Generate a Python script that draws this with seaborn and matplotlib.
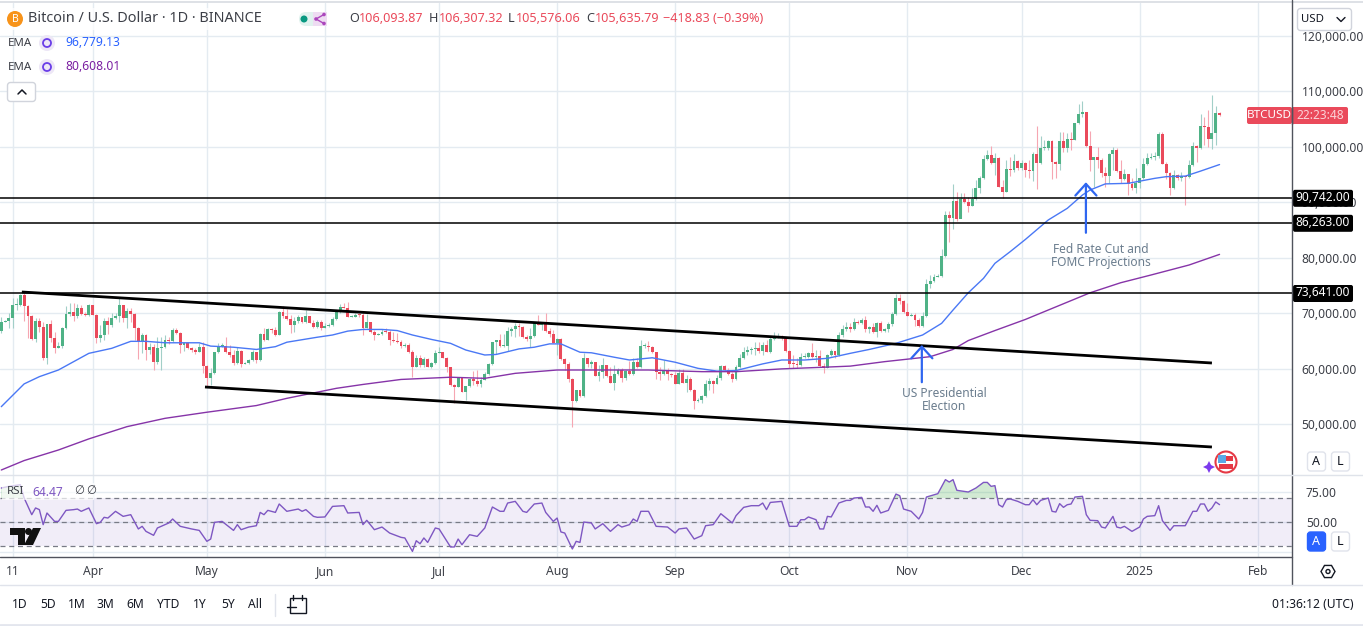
import numpy as np
import pandas as pd
import matplotlib
matplotlib.use("Agg")
import matplotlib.pyplot as plt
import matplotlib.dates as mdates
from matplotlib.patches import Circle, FancyBboxPatch, Polygon, Rectangle
from matplotlib.ticker import FuncFormatter
import seaborn as sns

# ---------- data (prices in thousand USD, daily candles from 2024-03-08) ----------
first_open = 66.88
close_1 = [68.5,68.62,69.22,71.5,71.5,73.3,71.38,69.52,65.44,68.62,67.6,61.96,68.08,65.62,63.76,64.12,67.42,69.88,70.24,69.52,70.96,69.88,69.7,71.5,69.76,65.56,66.1,68.62,67.9,69.16,69.52,71.5,69.22,70.42,69.82,67.42,64.9,66.1,63.4,63.94,61.24,63.76,63.94,65.2,65.02,67.0,66.52,64.3,64.66,63.76,63.46,62.98,63.94,60.52]
high_1 = [69.4,68.8,70.0,72.7,72.7,73.42,73.78,71.5,69.7,69.1,69.22,68.5,68.08,68.8,66.58,64.9,67.6,71.38,71.8,71.8,71.62,71.5,70.18,71.62,71.5,69.88,67.9,69.1,69.4,70.0,70.0,72.7,71.5,71.02,71.02,70.06,67.54,66.4,66.22,64.6,64.42,65.68,65.8,66.1,65.8,67.42,67.42,66.7,64.78,64.9,64.0,63.7,64.6,64.78]
low_1 = [66.4,68.38,67.3,67.3,70.6,71.38,68.68,65.62,65.2,64.9,66.7,61.6,60.94,64.9,62.8,63.7,63.82,67.18,69.58,68.62,69.1,69.7,69.58,69.58,69.76,64.6,64.78,65.2,66.22,67.6,68.98,68.38,68.5,67.42,68.5,65.2,61.78,62.8,61.6,62.68,59.8,60.94,59.8,63.7,64.42,64.9,66.22,62.8,63.22,63.58,63.1,62.62,62.98,59.2]

close_2 = [58.42,59.26,63.04,64.12,64.18,63.04,62.44,61.0,63.22,60.88,61.0,61.6,63.04,61.6,66.28,65.2,67.18,67.0,66.1,70.3,69.52,68.98,67.9,68.62,69.28,68.5,69.52,68.32,67.54,68.44,67.42,67.78,67.96,68.92,70.42,71.14,71.02,69.4,69.4,69.76,69.7,67.36,68.44,66.7,66.1,66.22,66.7,66.58,65.2,65.02,64.9,64.12,64.24,63.1]
high_2 = [60.7,60.1,63.1,64.72,64.72,65.8,64.3,63.4,64.0,63.4,61.24,61.72,63.4,63.1,66.52,67.3,67.3,67.3,67.6,70.42,71.32,70.72,69.7,69.4,69.7,69.4,70.6,69.52,68.8,68.8,68.8,68.2,68.2,69.4,70.6,71.68,71.92,72.1,69.7,70.0,70.12,70.0,69.88,68.44,67.0,66.52,67.12,67.3,67.0,66.7,66.4,65.2,64.72,64.6]
low_2 = [56.8,57.1,59.08,62.8,64.0,62.92,62.2,60.7,60.88,60.4,60.82,60.88,61.36,61.0,61.48,65.08,65.2,66.4,65.92,66.1,69.1,68.8,66.52,66.7,68.32,68.2,68.32,68.2,67.3,67.3,67.0,67.3,67.6,67.72,68.8,70.12,70.9,69.28,69.28,69.28,69.4,66.1,67.3,66.4,65.2,66.04,66.04,66.52,64.3,64.9,64.6,63.7,64.0,62.92]

close_3 = [60.34,61.9,60.7,61.78,60.28,61.12,62.92,63.04,62.02,60.28,57.1,56.74,58.42,55.9,56.92,58.18,57.88,57.28,58.0,59.08,60.88,64.9,65.2,64.12,64.12,66.82,67.18,67.78,67.6,65.8,65.32,65.92,68.2,67.96,68.38,66.82,66.28,64.72,65.38,61.78,60.88,58.18,54.28,56.2,55.12,61.96,60.82,61.3,58.78,59.5,60.7,58.72,57.52,59.02]
high_3 = [63.4,62.5,62.5,62.2,61.9,61.3,63.4,63.88,63.04,62.14,60.4,57.28,58.6,58.42,56.92,58.3,59.68,59.8,58.6,59.5,61.0,64.9,65.2,66.28,66.28,67.6,67.6,68.32,68.2,67.78,66.1,67.3,68.32,69.7,68.38,70.0,67.3,67.0,65.5,65.5,61.9,61.3,58.36,56.2,56.2,62.92,61.9,61.6,61.3,60.7,61.9,60.7,60.4,60.7]
low_3 = [58.6,60.28,60.4,60.28,60.28,60.1,60.94,62.8,62.02,59.5,56.92,53.92,56.74,55.9,54.4,56.68,57.1,56.92,56.8,58.0,58.9,60.7,62.68,64.0,64.0,63.28,65.92,65.8,65.92,65.5,65.08,63.88,65.68,67.9,67.0,66.7,65.8,64.6,62.5,61.6,59.8,57.7,49.6,54.1,54.88,55.0,60.4,60.1,58.72,57.88,58.3,58.6,57.4,56.2]

close_4 = [59.8,58.3,59.62,59.02,61.3,60.34,64.12,64.12,64.0,62.98,59.5,59.02,59.68,59.08,58.9,57.28,59.2,57.46,58.18,56.2,54.22,54.4,55.12,57.28,57.82,57.28,58.36,60.58,59.8,59.08,58.18,60.34,61.96,63.04,63.4,63.58,63.7,63.22,64.3,63.1,65.44,65.8,65.92,65.62,63.22,60.94,60.82,60.76,62.14,62.2,62.86,62.14,62.26,60.58]
high_4 = [60.1,60.1,59.8,61.42,61.9,61.9,65.2,64.6,65.02,64.18,63.1,60.4,61.6,60.1,59.2,59.5,59.98,59.98,58.9,58.6,56.38,54.82,55.3,58.0,58.3,58.0,58.9,60.7,60.7,60.22,59.5,60.7,62.62,64.0,64.18,64.0,64.9,64.78,64.78,65.2,65.8,66.58,66.4,66.1,65.5,63.34,62.5,61.9,62.8,62.8,62.98,64.6,63.4,63.4]
low_4 = [58.9,57.7,58.0,58.9,58.9,60.22,60.22,63.7,63.22,62.8,58.18,58.0,58.9,58.0,58.6,57.22,57.22,57.4,55.9,56.02,52.78,53.98,53.8,54.94,56.2,55.6,57.22,58.0,59.62,58.9,57.58,58.0,60.22,61.72,62.5,62.62,62.5,62.8,62.5,62.98,62.8,65.2,65.5,65.2,62.98,60.1,60.1,60.1,60.58,61.9,61.9,61.9,61.3,60.4]

close_5 = [60.16,62.5,63.22,62.5,66.1]
high_5 = [61.0,62.7,63.5,63.22,66.7]
low_5 = [59.2,60.1,62.4,62.0,62.4]

close_6 = [67.18,67.6,67.18,68.44,68.26,68.8,67.12,67.6,66.64,68.26,66.82,67.18,68.08,69.94,72.76,72.22,70.3,69.52,69.7,68.8,67.78,69.52,75.28,75.82,76.6,76.72,80.32,87.7,87.16,90.22,87.04,90.64,90.04,89.38,90.64,92.56,94.36,97.78,98.5,97.0,97.96,92.8,91.84,95.98,95.8,97.42,96.22,97.0]
high_6 = [67.9,68.38,68.2,69.1,68.8,69.22,69.52,67.72,68.2,68.38,68.68,67.3,68.38,70.18,73.48,73.48,72.4,71.8,70.0,70.0,69.1,70.3,76.18,76.9,77.08,77.08,81.52,88.42,88.48,93.28,91.78,91.6,91.6,91.0,92.62,94.0,94.72,98.5,99.4,100.12,98.8,98.2,94.0,97.6,98.2,98.68,97.6,97.6]
low_6 = [65.8,66.88,66.7,67.0,68.08,68.08,66.7,66.4,66.52,65.8,66.7,66.7,66.7,67.78,69.7,71.62,70.0,69.52,69.52,67.72,67.6,67.6,69.4,74.5,75.64,76.48,76.54,80.2,82.9,85.18,86.68,87.1,89.8,88.3,89.32,90.4,91.72,94.12,97.6,96.82,94.9,92.68,90.7,91.78,94.72,95.5,95.8,95.8]

close_7 = [95.8,95.62,98.68,97.06,99.76,99.76,101.02,97.24,96.88,101.02,99.76,101.38,101.2,104.26,105.88,106.24,100.12,97.6,98.14,97.6,95.26,94.72,98.68,99.4,95.62,94.18,95.08,93.28,92.56,93.4,94.36,96.88,97.96,98.2,98.38,102.28,96.88,95.26,92.56,94.9,94.36,94.72,94.48,96.7,100.12,99.76,103.72,103.6,101.38,102.46,106.09,105.64]
high_7 = [97.3,97.6,99.1,103.72,101.92,101.2,101.2,101.2,97.42,102.7,102.7,102.4,102.58,104.32,107.68,108.22,106.24,102.82,98.2,99.88,97.9,96.4,98.8,99.88,99.7,97.6,95.92,95.08,94.3,96.1,94.42,97.9,98.8,98.8,98.98,102.64,102.64,97.3,95.44,95.8,95.08,95.5,94.72,97.6,100.78,100.3,105.88,105.4,106.6,109.3,107.38,106.31]
low_7 = [94.6,94.3,93.88,92.38,96.88,99.4,99.4,94.12,94.3,95.8,99.1,99.1,99.4,101.2,104.02,105.4,100.0,95.62,92.8,96.1,94.48,92.8,93.4,95.8,95.5,93.4,94.0,91.3,92.2,91.72,92.5,94.12,96.7,97.72,97.6,97.96,96.88,94.12,91.3,92.44,94.0,93.88,89.5,94.3,96.52,97.3,99.52,100.3,100.0,99.52,100.3,105.58]

ema_blue_days = [0,6,10,15,23,29,34,38,43,52,55,61,67,72,75,83,87,91,95,100,104,108,113,118,122,127,130,136,140,144,147,152,155,161,165,171,177,183,188,193,200,205,211,217,223,228,235,242,247,250,254,258,261,265,269,275,280,284,286,290,296,303,306,311,315,320]
ema_blue = [53.2,57.3,58.6,59.8,62.8,63.7,64.96,64.96,64.7,64.7,64.1,63.9,63.5,64.0,64.8,65.7,66.1,66.8,67.1,67.1,66.9,66.1,65.3,64.6,63.4,62.5,62.6,63.6,63.9,64.5,64.5,63.0,62.9,62.1,61.6,62.0,61.2,60.1,59.6,59.7,60.9,61.6,61.6,61.9,62.8,63.5,64.6,66.1,68.2,70.6,73.7,76.3,79.0,81.1,83.3,86.8,88.9,91.3,92.2,93.3,93.4,94.3,94.6,94.7,95.6,96.78]
ema_purple_days = [0,6,15,23,33,43,54,67,75,88,95,105,118,127,135,146,159,170,184,193,205,216,223,232,244,250,254,261,269,286,294,302,312,320]
ema_purple = [41.8,43.5,45.4,47.4,49.6,51.1,52.2,53.4,54.7,56.5,57.2,58.1,58.5,58.3,59.2,59.8,59.8,59.8,59.5,59.5,60.0,60.3,60.5,61.3,62.2,63.5,65.1,66.9,68.9,73.7,75.5,76.9,78.7,80.61]

rsi_days = [0,2,5,6,8,9,10,11,12,14,15,17,19,20,21,23,25,26,27,28,30,32,34,36,37,38,40,41,44,45,47,50,52,54,55,56,58,61,62,63,65,67,68,69,70,72,73,75,78,79,80,82,83,85,87,90,91,94,95,96,98,100,102,105,106,108,109,110,111,112,114,115,118,119,120,121,123,125,127,129,131,132,133,135,137,138,140,142,143,145,146,147,148,150,151,152,153,155,156,158,160,162,163,165,166,167,168,170,172,175,177,178,180,182,184,185,187,189,192,193,195,197,199,200,201,202,205,207,209,210,211,212,214,215,216,217,218,220,222,223,224,226,227,228,229,230,231,233,235,236,237,239,241,242,243,246,248,249,250,251,254,256,258,259,260,261,262,263,264,265,267,269,270,271,272,273,275,276,277,278,279,280,281,282,284,285,286,288,289,290,292,293,294,295,297,299,300,301,303,304,305,307,308,311,313,314,315,316,317,318,319,320]
rsi_vals = [78.3,79.7,81.1,70,56.1,61.7,60.3,47.8,57.5,50.5,50.5,59.7,60.3,60.8,58.9,61.7,48.6,49.7,53.9,53.3,58.9,54.7,56.1,44.2,46.4,42.2,38.9,45,49.2,52.5,46.4,44.2,43,33.9,35.8,49.7,50.5,43,47.8,43.6,45.8,46.9,58,56.1,59.7,58,65,58.9,60.8,58.9,60.3,54.7,53.9,54.2,63,63.6,57.5,58,47.8,51.4,43.6,45.8,40.8,37.2,36.7,25.5,34.4,31.9,36.7,33,45,44.2,29.2,29.2,35.8,31.1,39.4,38,45,62.5,58.9,58.9,65.8,67.2,58.9,58,65,65.8,58,50.5,53.3,41.7,40.8,27.5,33.9,33,50,49.2,44.2,48.6,42.2,47.8,45.8,47.8,52.5,50.5,58.9,58.9,46.4,45.8,40.8,44.2,45,35.8,38.6,46.9,47.8,56.9,49.2,55.3,62.2,63.6,63.6,65.8,60.3,66.3,67.2,46.4,46.4,51.9,51.9,54.2,51.9,44.2,44.2,54.7,54.2,65.8,68,68,70,70.5,62.5,62.5,58.9,63.9,57.5,59.7,73.3,71.9,60.8,58.9,52.5,58,70.8,73.6,85.3,83.3,85.3,76.4,75,78.3,83,83,79.7,80.3,64.4,62.5,68.6,69.2,67.2,64.4,64.4,68.6,64.4,68,70,58.9,58.3,65.3,62.2,64.4,65,70.8,71.4,56.1,51.4,51.1,45.8,45,54.7,45.8,45,46.4,42.2,45.8,52.5,54.7,55.3,63.6,51.1,43,46.9,46.9,58.9,58.9,65,65,58.9,61.7,66.7,64.47]

h_levels = [90.742, 86.263, 73.641]
h_labels = ["90,742.00", "86,263.00", "73,641.00"]
channel_days = [5.4, 318.0]
channel_upper = [73.84, 61.06]
channel_lower_days = [53.5, 318.0]
channel_lower = [56.74, 45.94]
arrow_days = [241.8, 284.9]
arrow_from = [57.6, 84.5]
arrow_to = [64.3, 93.6]
month_ticks = ["2024-03-11","2024-04-01","2024-05-01","2024-06-01","2024-07-01","2024-08-01","2024-09-01","2024-10-01","2024-11-01","2024-12-01","2025-01-01","2025-02-01"]
month_labels = ["11","Apr","May","Jun","Jul","Aug","Sep","Oct","Nov","Dec","2025","Feb"]
range_labels = ["1D","5D","1M","3M","6M","YTD","1Y","5Y","All"]

closes = np.array(close_1+close_2+close_3+close_4+close_5+close_6+close_7)
highs = np.array(high_1+high_2+high_3+high_4+high_5+high_6+high_7)
lows = np.array(low_1+low_2+low_3+low_4+low_5+low_6+low_7)
opens = np.r_[first_open, closes[:-1]]
base = pd.Timestamp("2024-03-08")
dates = pd.date_range(base, periods=len(closes))
def day(d):
    return base + pd.to_timedelta(np.asarray(d, dtype=float), unit="D")

# ---------- style ----------
sns.set_theme(style="white")
FONT = ["Noto Sans", "DejaVu Sans"]
plt.rcParams["font.family"] = FONT
TXT = "#3c3f47"
GRID = "#e4ebf1"
UP, DOWN = "#4fb286", "#ea4a5b"
UPW, DOWNW = "#a2cfc8", "#f6a6b2"
BLUE, PURPLE = "#4a78f5", "#8634a8"
FS = 8.7

W, H = 1363, 626
fig = plt.figure(figsize=(W/100, H/100), dpi=100, facecolor="white")
def rect(l, t, r, b):
    return [l/W, 1-b/H, (r-l)/W, (b-t)/H]
ax = fig.add_axes(rect(0, 3, 1292, 475))
rs = fig.add_axes(rect(0, 475, 1292, 557))

x0 = mdates.date2num(base)
xlim = (x0-1.3/3.807, x0+(1292-1.3)/3.807)
tick_pos = mdates.date2num(pd.to_datetime(month_ticks))

# ---------- price pane ----------
ax.set_xlim(xlim)
ax.set_ylim(126.4-.18*475, 126.4-.18*3)
ax.set_axisbelow(True)
ax.set_xticks(tick_pos)
ax.set_xticklabels([])
ax.set_yticks(np.arange(50, 121, 10))
ax.yaxis.tick_right()
ax.yaxis.set_major_formatter(FuncFormatter(lambda v, _: f"{v*1000:,.2f}"))
ax.tick_params(axis="y", length=0, pad=7, labelsize=FS, labelcolor=TXT)
ax.tick_params(axis="x", length=0)
ax.grid(True, color=GRID, lw=1)
for s in ax.spines.values():
    s.set_visible(False)

xd = mdates.date2num(dates)
up = closes >= opens
ax.vlines(xd, lows, highs, colors=np.where(up, UPW, DOWNW), lw=0.8, zorder=2)
ax.bar(xd, np.maximum(np.abs(closes-opens), 0.18), bottom=np.minimum(opens, closes),
       width=0.76, color=np.where(up, UP, DOWN), lw=0, zorder=3)

sns.lineplot(x=mdates.date2num(day(ema_blue_days)), y=ema_blue, ax=ax, color=BLUE, lw=1.0, zorder=4, errorbar=None, estimator=None)
sns.lineplot(x=mdates.date2num(day(ema_purple_days)), y=ema_purple, ax=ax, color=PURPLE, lw=1.0, zorder=4, errorbar=None, estimator=None)
for lv in h_levels:
    ax.axhline(lv, color="black", lw=1.1, zorder=5)
ax.plot(mdates.date2num(day(channel_days)), channel_upper, color="black", lw=2.0, zorder=5, solid_capstyle="butt")
ax.plot(mdates.date2num(day(channel_lower_days)), channel_lower, color="black", lw=2.0, zorder=5, solid_capstyle="butt")
for d, a, b in zip(arrow_days, arrow_from, arrow_to):
    xa = mdates.date2num(day(d))
    ax.annotate("", xy=(xa, b), xytext=(xa, a), zorder=6,
                arrowprops=dict(arrowstyle="->,head_length=0.42,head_width=0.38", color="#2f66f0", lw=1.6,
                                mutation_scale=20, shrinkA=0, shrinkB=0))

# ---------- RSI pane ----------
rs.set_xlim(xlim)
rs.set_ylim(70-(557-498)/1.2, 70+(498-475)/1.2)
rs.set_axisbelow(True)
rs.set_xticks(tick_pos)
rs.set_xticklabels(month_labels)
rs.set_yticks([25, 50, 75])
rs.set_yticklabels(["", "50.00", "75.00"])
rs.yaxis.tick_right()
rs.tick_params(axis="y", length=0, pad=10, labelsize=FS, labelcolor=TXT)
rs.tick_params(axis="x", length=0, pad=6, labelsize=FS, labelcolor=TXT)
rs.get_xticklabels()[10].set_fontweight("bold")
rs.grid(True, color=GRID, lw=1)
for s in rs.spines.values():
    s.set_visible(False)
rs.axhspan(30, 70, color="#7e57c2", alpha=.1, lw=0, zorder=1)
for lv in [30, 50, 70]:
    rs.axhline(lv, color="#787b86", lw=.9, dashes=(4, 3), zorder=2)
rx = mdates.date2num(day(rsi_days))
rv = np.array(rsi_vals)
rs.fill_between(rx, 70, rv, where=rv > 70, interpolate=True, color="#4caf50", alpha=.25, lw=0, zorder=2)
sns.lineplot(x=rx, y=rv, ax=rs, color="#7e57c2", lw=1.0, zorder=3, errorbar=None, estimator=None)
rs.set_xlabel(""); rs.set_ylabel(""); ax.set_xlabel(""); ax.set_ylabel("")

# ---------- chrome overlay ----------
c = fig.add_axes([0, 0, 1, 1], zorder=10)
c.set_xlim(0, W); c.set_ylim(H, 0); c.axis("off"); c.patch.set_alpha(0)
def T(x, y, s, color=TXT, size=FS, ha="left", va="center", **k):
    return c.text(x, y, s, color=color, fontsize=size, ha=ha, va=va, **k)
c.plot([0, W], [2, 2], color="#d8dbe2", lw=1.2)
c.plot([0, W], [625, 625], color="#e3e6ee", lw=2)
c.plot([1292, 1292], [0, 585], color="#50535c", lw=1)
c.plot([0, 1292], [557, 557], color="#50535c", lw=1)
c.plot([0, 1292], [475, 475], color="#dfe3ea", lw=1)
c.plot([1292, W], [475, 475], color="#dfe3ea", lw=1)
c.plot([0, W], [585, 585], color="#e0e3eb", lw=1)

# header
c.add_patch(Rectangle((4, 8), 272, 22, color="white", alpha=.75, lw=0))
c.add_patch(Circle((15, 19), 8, color="#f7931a", lw=0))
T(15, 19, "B", color="white", size=7.5, ha="center", fontweight="bold")
T(28, 19, "Bitcoin / U.S. Dollar · 1D · BINANCE", size=10.4)
c.add_patch(FancyBboxPatch((299, 12), 28, 14, boxstyle="round,pad=0,rounding_size=7", fc="#e0f2ee", ec="none"))
c.add_patch(Rectangle((313, 12), 14, 14, fc="#eedcf2", ec="none"))
c.add_patch(Circle((304, 19), 3.5, color="#089981", lw=0))
for p in [(316, 19), (324, 14.5), (324, 23.5)]:
    c.add_patch(Circle(p, 1.8, color="#ab47bc", lw=0))
c.plot([324, 316, 324], [14.5, 19, 23.5], color="#ab47bc", lw=1)
RED = "#ea4a5b"
for xl, l, xv, v in [(349, "O", 359, "106,093.87"), (429, "H", 439, "106,307.32"), (508, "L", 516, "105,576.06"), (586, "C", 595, "105,635.79")]:
    T(xl, 19, l, size=9.1)
    T(xv, 19, v, color=RED, size=9.1)
T(663, 19, "−418.83 (−0.39%)", color=RED, size=9.1)
for y, v, col in [(43, "96,779.13", "#2962ff"), (67, "80,608.01", "#7b1fa2")]:
    T(8, y, "EMA", size=8.3)
    c.add_patch(Circle((47, y), 8, color="#ede7f6", lw=0))
    c.add_patch(Circle((47, y), 4, fc="none", ec="#6a3de8", lw=1.3))
    T(65, y, v, color=col, size=8.7)
c.add_patch(FancyBboxPatch((7.5, 82.5), 28, 19, boxstyle="round,pad=0,rounding_size=3", fc="white", ec="#d1d4dc", lw=1))
c.plot([18, 22, 26], [94, 90, 94], color="#131722", lw=1.1)

# right scale boxes
c.add_patch(FancyBboxPatch((1297.5, 8.5), 54, 22, boxstyle="round,pad=0,rounding_size=3", fc="white", ec="#d1d4dc", lw=1))
T(1301, 19.5, "USD", size=8.2, color="#131722")
c.plot([1337, 1341, 1345], [17.5, 21.5, 17.5], color="#131722", lw=1)
for lv, s in zip([198.3, 223.3, 293.5], h_labels):
    c.add_patch(FancyBboxPatch((1293, lv-8.5), 60, 17, boxstyle="round,pad=0,rounding_size=2", fc="black", ec="none"))
    T(1323, lv-.5, s, color="white", ha="center", size=8.6, fontweight="bold")
c.add_patch(FancyBboxPatch((1247, 107), 45, 17, boxstyle="round,pad=0,rounding_size=2", fc="#ea4a5b", ec="none"))
c.add_patch(FancyBboxPatch((1292, 107), 56, 17, boxstyle="round,pad=0,rounding_size=2", fc="#ea4a5b", ec="none"))
c.add_patch(Rectangle((1292, 107), 4, 17, fc="#ea4a5b", ec="none"))
c.plot([1292, 1292], [107, 124], color="#50535c", lw=1)
T(1269.5, 115.5, "BTCUSD", color="white", ha="center", size=8.4, fontweight="medium")
T(1320, 115.5, "22:23:48", color="#fbd3d8", ha="center", size=8.6)

# annotations
T(944, 400, "US Presidential\nElection", color="#6b7d8e", ha="center", size=8.6, linespacing=1.05)
T(1101, 256, "Fed Rate Cut and\nFOMC Projections", color="#6b7d8e", ha="center", size=8.6, linespacing=1.05)

# flag badge
c.add_patch(Circle((1226, 462), 10.5, fc="white", ec="#e53945", lw=1.5))
c.add_patch(Rectangle((1219, 456), 14, 4.5, color="#e53945", lw=0))
c.add_patch(Rectangle((1219, 464), 14, 4.5, color="#e53945", lw=0))
c.add_patch(Rectangle((1218, 455), 8, 8, color="#5aa9e6", lw=0))
c.add_patch(Polygon([(1209, 461), (1211, 465), (1215, 467), (1211, 469), (1209, 473), (1207, 469), (1203, 467), (1207, 465)], color="#7c3aed", lw=0))

# A/L buttons
for y0, active in [(452, False), (532, True)]:
    c.add_patch(FancyBboxPatch((1307.5, y0), 18, 19, boxstyle="round,pad=0,rounding_size=3",
                               fc="#2962ff" if active else "white", ec="#2962ff" if active else "#e0e3eb", lw=1))
    T(1316.5, y0+9.5, "A", ha="center", color="white" if active else "#131722", size=9)
    c.add_patch(FancyBboxPatch((1331.5, y0), 18, 19, boxstyle="round,pad=0,rounding_size=3", fc="white", ec="#e0e3eb", lw=1))
    T(1340.5, y0+9.5, "L", ha="center", color="#131722", size=9)

# gear
hx = [1328+7*np.cos(a) for a in np.radians(np.arange(0, 360, 60))]
hy = [571.5+7*np.sin(a) for a in np.radians(np.arange(0, 360, 60))]
c.add_patch(Polygon(list(zip(hx, hy)), fc="white", ec="#131722", lw=1))
c.add_patch(Circle((1328, 571.5), 2, fc="white", ec="#131722", lw=1))

# RSI legend
c.add_patch(Rectangle((2, 483), 92, 17, color="white", alpha=.7, lw=0))
T(7, 492, "RSI", size=8.3)
T(32, 492, "64.47", size=8.7, color="#7e57c2")
T(74, 492, "∅", size=8.3)
T(86, 492, "∅", size=8.3)

# TradingView mark
c.add_patch(Polygon([(10, 528), (25, 528), (25, 545), (18, 545), (18, 535), (10, 535)], color="#111", lw=0))
c.add_patch(Circle((28.5, 531.5), 3.5, color="#111", lw=0))
c.add_patch(Polygon([(33, 528), (41, 528), (33, 545), (24, 545)], color="#111", lw=0))

# bottom bar
for x, s in zip([20, 48, 77, 105, 135, 168, 200, 228, 255], range_labels):
    T(x, 605, s, ha="center", size=8.7, color="#131722")
c.plot([274.5, 274.5], [594, 616], color="#e0e3eb", lw=1)
c.add_patch(Rectangle((289.5, 597.5), 16, 15, fc="none", ec="#131722", lw=1))
c.plot([293, 293], [595, 600], color="#131722", lw=1)
c.plot([302, 302], [595, 600], color="#131722", lw=1)
c.plot([287, 296], [607, 607], color="#131722", lw=1)
T(1354, 605, "01:36:12 (UTC)", ha="right", size=8.7, color="#131722")

fig.savefig("out.png", dpi=100)
assert len(closes) == len(highs) == len(lows) == 321
assert len(rsi_days) == len(rsi_vals) and len(ema_blue_days) == len(ema_blue) and len(ema_purple_days) == len(ema_purple)
